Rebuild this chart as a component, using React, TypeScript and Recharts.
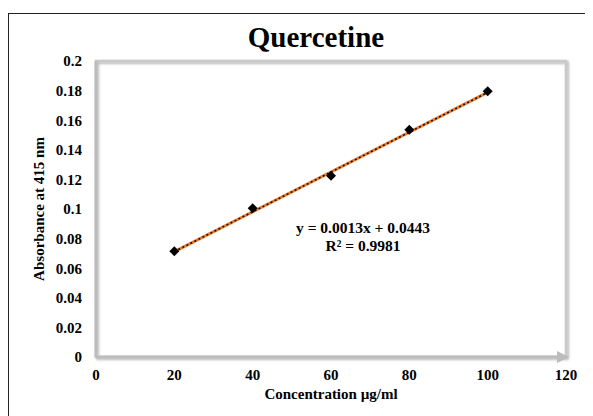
import React from 'react';
import {
  ComposedChart,
  Scatter,
  Line,
  XAxis,
  YAxis,
  ReferenceArea,
  Label,
} from 'recharts';

// Standard curve readings (concentration in µg/ml, absorbance at 415 nm)
const concentrations = [20, 40, 60, 80, 100];
const absorbances = [0.0715, 0.1005, 0.1225, 0.1535, 0.1795];

// Linear trendline end points
const trendX = [20, 100];
const trendY = [0.0712, 0.1788];

const xTicks = [0, 20, 40, 60, 80, 100, 120];
const yTicks = [0, 0.02, 0.04, 0.06, 0.08, 0.1, 0.12, 0.14, 0.16, 0.18, 0.2];

const equationText = 'y = 0.0013x + 0.0443';
const r2Text = 'R² = 0.9981';

const points = concentrations.map((x, i) => ({ x, y: absorbances[i] }));
const trend = trendX.map((x, i) => ({ x, y: trendY[i] }));

const FONT = '"Liberation Serif", "Times New Roman", serif';
const tickStyle = { fontFamily: FONT, fontSize: 15, fontWeight: 700, fill: '#000' };

// square marker turned 45 degrees, like Excel's diamond
const DiamondMarker = (props: any) => {
  const { cx, cy } = props;
  if (cx == null || cy == null) return null;
  const r = 5;
  return (
    <path
      d={`M${cx},${cy - r}L${cx + r},${cy}L${cx},${cy + r}L${cx - r},${cy}Z`}
      fill="#000"
    />
  );
};

const App: React.FC = () => {
  return (
    <div
      style={{
        marginTop: 5,
        width: 585,
        height: 403,
        borderTop: '1px solid #222',
        borderLeft: '1px solid #222',
        overflow: 'hidden',
      }}
    >
      <ComposedChart
        width={584}
        height={400}
        margin={{ top: 47, right: 27, bottom: 27, left: 0 }}
      >
        <defs>
          <filter id="frameShadow" x="-5%" y="-5%" width="110%" height="110%">
            <feDropShadow dx="1.5" dy="1.5" stdDeviation="1.2" floodColor="#777" floodOpacity="0.6" />
          </filter>
          <marker id="axisArrow" markerWidth="4" markerHeight="4" refX="3" refY="2" orient="auto">
            <path d="M0,0L4,2L0,4Z" fill="#bcbcbc" />
          </marker>
        </defs>
        <ReferenceArea
          x1={0}
          x2={120}
          y1={0}
          y2={0.2}
          fill="none"
          stroke="#c9c9c9"
          strokeWidth={2.5}
          filter="url(#frameShadow)"
          ifOverflow="visible"
        />
        <XAxis
          type="number"
          dataKey="x"
          domain={[0, 120]}
          ticks={xTicks}
          tickLine={false}
          axisLine={{ stroke: '#bcbcbc', strokeWidth: 3, markerEnd: 'url(#axisArrow)' }}
          tickSize={9}
          tickMargin={3}
          tick={tickStyle}
          height={30}
          allowDuplicatedCategory={false}
        >
          <Label
            value="Concentration µg/ml"
            position="bottom"
            offset={1}
            style={{ fontFamily: FONT, fontSize: 15, fontWeight: 700, fill: '#000' }}
          />
        </XAxis>
        <YAxis
          type="number"
          dataKey="y"
          domain={[0, 0.2]}
          ticks={yTicks}
          tickLine={false}
          axisLine={{ stroke: '#bcbcbc', strokeWidth: 3 }}
          tickSize={12}
          tickMargin={2}
          tick={tickStyle}
          width={87}
        >
          <Label
            value="Absorbance at 415 nm"
            angle={-90}
            position="insideLeft"
            offset={30}
            style={{ fontFamily: FONT, fontSize: 15, fontWeight: 700, fill: '#000', textAnchor: 'middle' }}
          />
        </YAxis>
        <Line
          data={trend}
          dataKey="y"
          type="linear"
          stroke="#ed7d31"
          strokeWidth={3}
          dot={false}
          activeDot={false}
          isAnimationActive={false}
        />
        <Line
          data={trend}
          dataKey="y"
          type="linear"
          stroke="#111"
          strokeWidth={1.6}
          strokeDasharray="2 2.5"
          dot={false}
          activeDot={false}
          isAnimationActive={false}
        />
        <Scatter
          data={points}
          dataKey="y"
          shape={<DiamondMarker />}
          fill="#000"
          legendType="none"
          isAnimationActive={false}
        />
        <text
          x={307}
          y={33}
          textAnchor="middle"
          style={{ fontFamily: FONT, fontSize: 29, fontWeight: 700 }}
          fill="#000"
        >
          Quercetine
        </text>
        <text
          x={354}
          y={219}
          textAnchor="middle"
          style={{ fontFamily: FONT, fontSize: 15.5, fontWeight: 700 }}
          fill="#000"
        >
          {equationText}
        </text>
        <text
          x={354}
          y={237}
          textAnchor="middle"
          style={{ fontFamily: FONT, fontSize: 15.5, fontWeight: 700 }}
          fill="#000"
        >
          {r2Text}
        </text>
      </ComposedChart>
    </div>
  );
};

export default App;
